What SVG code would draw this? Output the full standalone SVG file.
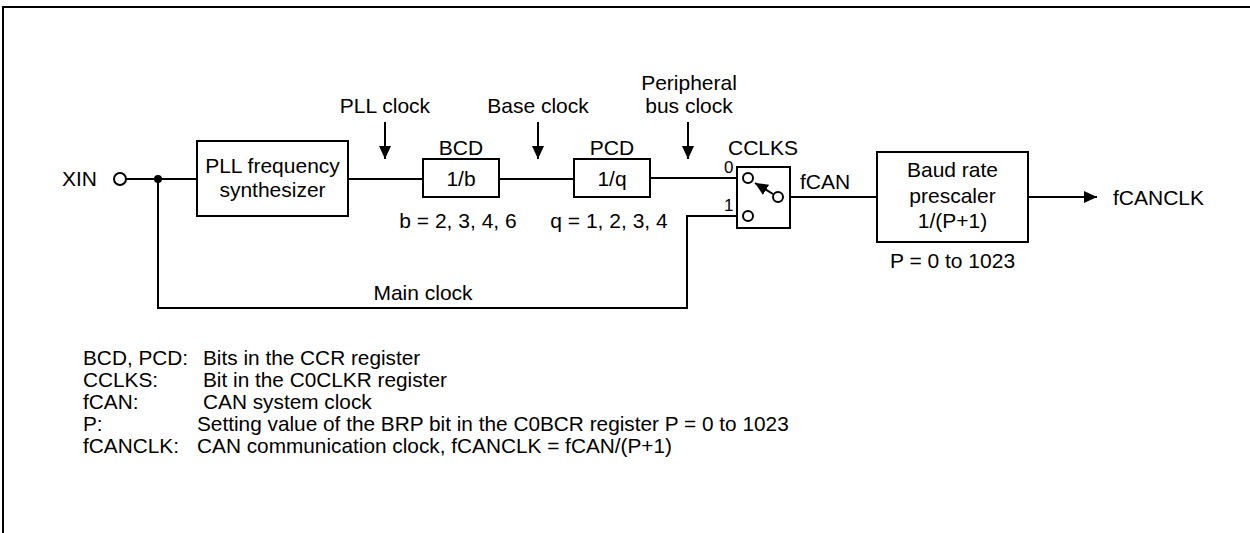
<svg xmlns="http://www.w3.org/2000/svg" width="1250" height="533" viewBox="0 0 1250 533">
<style>
  text { font-family: "Liberation Sans", Arial, sans-serif; font-size: 21px; fill: #000; }
  .c { text-anchor: middle; }
  .s { font-size: 17px; }
  .lg { font-size: 20.8px; }
  .box { fill: #fff; stroke: #000; stroke-width: 2; }
  .ln { fill: none; stroke: #000; stroke-width: 2; }
  .port { fill: #fff; stroke: #000; stroke-width: 2; }
</style>
<defs>
  <marker id="ah" viewBox="0 0 13 12" refX="13" refY="6" markerWidth="13" markerHeight="12" markerUnits="userSpaceOnUse" orient="auto">
    <path d="M0,0 L13,6 L0,12 Z" fill="#000"/>
  </marker>
</defs>
<rect width="1250" height="533" fill="#fff"/>
<g id="frame">
  <path class="ln" d="M3,533 V7 H1250"/>
</g>

<g id="connectors">
  <path class="ln" d="M126,179 H197"/>
  <path class="ln" d="M348,179 H423"/>
  <path class="ln" d="M499,179 H574"/>
  <path class="ln" d="M650,178 H743"/>
  <path class="ln" d="M158,179 V308 H687 V216 H743"/>
  <path class="ln" d="M783,197 H877"/>
  <path class="ln" d="M1028,197 H1097" marker-end="url(#ah)"/>
  <path class="ln" d="M385,122 V159" marker-end="url(#ah)"/>
  <path class="ln" d="M538,122 V159" marker-end="url(#ah)"/>
  <path class="ln" d="M688,122 V159" marker-end="url(#ah)"/>
  <circle cx="158" cy="179" r="4" fill="#000"/>
</g>

<g id="xin">
  <text x="97" y="186" text-anchor="end">XIN</text>
  <circle class="port" cx="120" cy="179" r="6"/>
</g>

<g id="pll">
  <rect class="box" x="197" y="141" width="151" height="75"/>
  <text class="c" x="272.5" y="173">PLL frequency</text>
  <text class="c" x="272.5" y="197">synthesizer</text>
</g>

<g id="bcd">
  <text class="c" x="461" y="155">BCD</text>
  <rect class="box" x="423" y="159" width="76" height="38"/>
  <text class="c" x="461" y="186">1/b</text>
  <text class="c" x="458" y="228">b = 2, 3, 4, 6</text>
</g>

<g id="pcd">
  <text class="c" x="612" y="155">PCD</text>
  <rect class="box" x="574" y="159" width="76" height="38"/>
  <text class="c" x="612" y="186">1/q</text>
  <text class="c" x="609" y="228">q = 1, 2, 3, 4</text>
</g>

<g id="clock-labels">
  <text class="c" x="385" y="113">PLL clock</text>
  <text class="c" x="538" y="113">Base clock</text>
  <text class="c" x="689" y="90">Peripheral</text>
  <text class="c" x="689" y="113">bus clock</text>
  <text class="c" x="423" y="300">Main clock</text>
</g>

<g id="cclks">
  <text class="c" x="763" y="155">CCLKS</text>
  <rect class="box" x="737" y="167" width="53" height="61"/>
  <text class="s" x="724" y="173">0</text>
  <text class="s" x="724" y="211">1</text>
  <path class="ln" d="M773,194 L755,183" marker-end="url(#ah)"/>
  <circle class="port" cx="748" cy="178" r="5"/>
  <circle class="port" cx="748" cy="216" r="5"/>
  <circle class="port" cx="778" cy="197" r="5"/>
  <text x="800" y="189">fCAN</text>
</g>

<g id="baud">
  <rect class="box" x="877" y="152" width="151" height="90"/>
  <text class="c" x="952.5" y="177">Baud rate</text>
  <text class="c" x="952.5" y="203">prescaler</text>
  <text class="c" x="952.5" y="228">1/(P+1)</text>
  <text class="c" x="952.5" y="268">P = 0 to 1023</text>
</g>

<g id="fcanclk">
  <text x="1113" y="205">fCANCLK</text>
</g>

<g id="legend">
  <text class="lg" x="83" y="365">BCD, PCD:</text>
  <text class="lg" x="203" y="365">Bits in the CCR register</text>
  <text class="lg" x="83" y="387">CCLKS:</text>
  <text class="lg" x="203" y="387">Bit in the C0CLKR register</text>
  <text class="lg" x="83" y="409">fCAN:</text>
  <text class="lg" x="203" y="409">CAN system clock</text>
  <text class="lg" x="83" y="431">P:</text>
  <text class="lg" x="197" y="431">Setting value of the BRP bit in the C0BCR register P = 0 to 1023</text>
  <text class="lg" x="83" y="453">fCANCLK:</text>
  <text class="lg" x="197" y="453">CAN communication clock, fCANCLK = fCAN/(P+1)</text>
</g>
</svg>
